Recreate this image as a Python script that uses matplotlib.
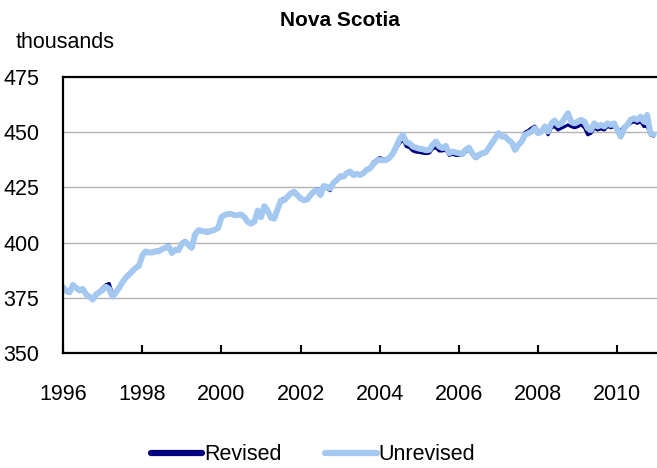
import numpy as np
import matplotlib
matplotlib.use('Agg')
import matplotlib.pyplot as plt

plt.rcParams['font.family'] = ['Liberation Sans', 'DejaVu Sans']

# datos mensuales, ene 1996 - dic 2010 (miles)
revisado = [
    379.8, 378.5, 377.5, 380.5, 379.5, 378.5, 379.0, 377.0, 376.0, 375.0, 376.8, 378.0,  # 1996
    379.5, 381.0, 381.5, 377.0, 378.0, 380.0, 382.5, 384.5, 386.0, 387.5, 389.0, 390.0,  # 1997
    394.5, 396.0, 396.0, 396.0, 396.5, 396.5, 397.5, 398.0, 399.0, 396.0, 397.0, 397.0,  # 1998
    400.0, 401.0, 399.5, 397.5, 403.0, 405.5, 405.5, 404.5, 404.4, 405.0, 405.8, 406.5,  # 1999
    411.0, 412.5, 413.0, 413.0, 412.0, 412.5, 413.0, 411.5, 409.5, 409.0, 410.0, 414.0,  # 2000
    411.5, 416.5, 415.0, 412.0, 411.0, 416.0, 419.5, 420.0, 421.0, 422.5, 423.5, 422.0,  # 2001
    420.0, 419.5, 420.0, 422.0, 423.5, 424.5, 423.0, 425.5, 424.5, 423.5, 426.5, 428.5,  # 2002
    430.5, 430.5, 431.5, 432.5, 431.0, 431.5, 431.0, 432.0, 433.5, 434.0, 436.5, 437.5,  # 2003
    438.5, 438.0, 438.0, 438.5, 440.0, 442.5, 445.0, 446.5, 443.5, 443.0, 441.5, 441.0,  # 2004
    440.8, 440.5, 440.3, 440.5, 442.5, 443.0, 441.5, 441.5, 442.0, 439.5, 440.0, 439.5,  # 2005
    439.5, 439.5, 441.0, 442.0, 440.0, 438.0, 439.0, 440.0, 440.5, 442.5, 445.0, 447.5,  # 2006
    450.0, 448.5, 447.5, 446.0, 445.0, 442.5, 444.5, 446.5, 450.0, 450.8, 452.0, 452.8,  # 2007
    450.5, 450.5, 452.6, 448.8, 452.0, 452.5, 451.0, 451.8, 452.5, 453.3, 452.5, 452.0,  # 2008
    452.5, 453.3, 452.0, 448.8, 449.5, 451.8, 451.0, 451.5, 451.0, 452.6, 452.0, 452.5,  # 2009
    450.3, 451.0, 452.6, 453.0, 454.0, 454.8, 454.0, 454.8, 452.6, 452.6, 448.8, 448.2,  # 2010
]

no_revisado = [
    379.8, 378.0, 377.5, 380.8, 379.5, 378.3, 379.0, 376.5, 375.5, 374.2, 376.5, 377.5,  # 1996
    378.5, 380.0, 379.0, 375.5, 377.5, 379.5, 382.0, 384.0, 385.5, 387.0, 388.5, 389.5,  # 1997
    394.0, 396.0, 395.5, 395.5, 396.0, 396.0, 397.0, 397.6, 398.3, 395.3, 396.8, 396.5,  # 1998
    399.5, 400.3, 399.0, 397.6, 403.6, 405.6, 405.3, 405.0, 405.0, 405.3, 405.8, 406.6,  # 1999
    411.5, 412.5, 413.0, 413.0, 412.3, 412.5, 412.7, 411.5, 409.3, 408.6, 409.5, 414.5,  # 2000
    411.5, 416.5, 414.5, 411.3, 410.8, 415.0, 418.9, 419.2, 420.7, 422.3, 423.0, 421.5,  # 2001
    420.0, 419.2, 419.5, 421.5, 423.0, 423.8, 421.5, 425.6, 425.3, 424.5, 427.1, 428.4,  # 2002
    429.9, 429.9, 431.4, 432.2, 430.6, 431.1, 430.6, 431.4, 432.9, 433.5, 435.5, 437.0,  # 2003
    437.5, 437.3, 437.5, 438.5, 440.5, 443.5, 447.0, 448.8, 445.5, 445.0, 443.5, 443.0,  # 2004
    442.5, 442.3, 441.8, 442.0, 444.3, 445.8, 443.5, 442.8, 443.8, 440.5, 441.2, 440.8,  # 2005
    440.5, 440.0, 442.0, 443.0, 440.5, 438.7, 439.7, 440.5, 440.8, 442.8, 445.0, 447.3,  # 2006
    449.5, 448.0, 448.0, 446.5, 445.3, 442.0, 444.3, 445.8, 448.8, 449.5, 450.3, 451.8,  # 2007
    449.5, 450.3, 452.6, 450.3, 454.0, 455.3, 453.3, 454.0, 456.3, 458.6, 454.8, 454.0,  # 2008
    454.8, 455.6, 454.8, 451.8, 451.0, 454.0, 452.6, 453.3, 452.6, 454.0, 453.3, 454.0,  # 2009
    451.0, 448.0, 451.8, 453.3, 455.6, 456.3, 455.6, 457.0, 454.8, 457.8, 449.5, 449.0,  # 2010
]

anio_inicio = 1996
fechas = anio_inicio + np.arange(len(revisado)) / 12.0
anios_ticks = list(range(1996, 2011, 2))
valores_y = [350, 375, 400, 425, 450, 475]

fig = plt.figure(figsize=(6.57, 4.68), dpi=100)
ax = fig.add_axes([63 / 657, 1 - 353 / 468, 1 - 63 / 657, (353 - 77) / 468])

ax.plot(fechas, revisado, color='#000080', lw=2.2, label='Revised', solid_capstyle='round')
ax.plot(fechas, no_revisado, color='#a4c8f0', lw=4.3, label='Unrevised', solid_capstyle='round')

ax.set_xlim(1996, 2011)
ax.set_ylim(350, 475)
ax.set_xticks(anios_ticks)
ax.set_xticklabels([str(a) for a in anios_ticks])
ax.set_yticks(valores_y)
ax.set_yticklabels([str(v) for v in valores_y])

for v in valores_y[1:-1]:
    ax.axhline(v, color='#b4b4b4', lw=1.0, zorder=0)

for lado in ['left', 'bottom', 'top']:
    ax.spines[lado].set_linewidth(1.6)
    ax.spines[lado].set_color('black')
ax.spines['right'].set_visible(False)

ax.tick_params(axis='x', direction='in', length=6, width=1.5, labelsize=15.5, pad=22)
ax.tick_params(axis='y', length=0, labelsize=15.5, pad=17)

fig.text(340 / 657, 1 - 20 / 468, 'Nova Scotia', ha='center', va='center',
         fontsize=15, fontweight='bold')
fig.text(16 / 657, 1 - 42 / 468, 'thousands', ha='left', va='center', fontsize=15.5)

leg = fig.legend(loc='center', bbox_to_anchor=(313 / 657, 1 - 455 / 468), ncol=2,
                 frameon=False, fontsize=15.5, handlelength=2.4, handletextpad=0.1,
                 columnspacing=2.0)
for linea in leg.get_lines():
    linea.set_linewidth(4.5)

fig.savefig('out.png', dpi=100)
